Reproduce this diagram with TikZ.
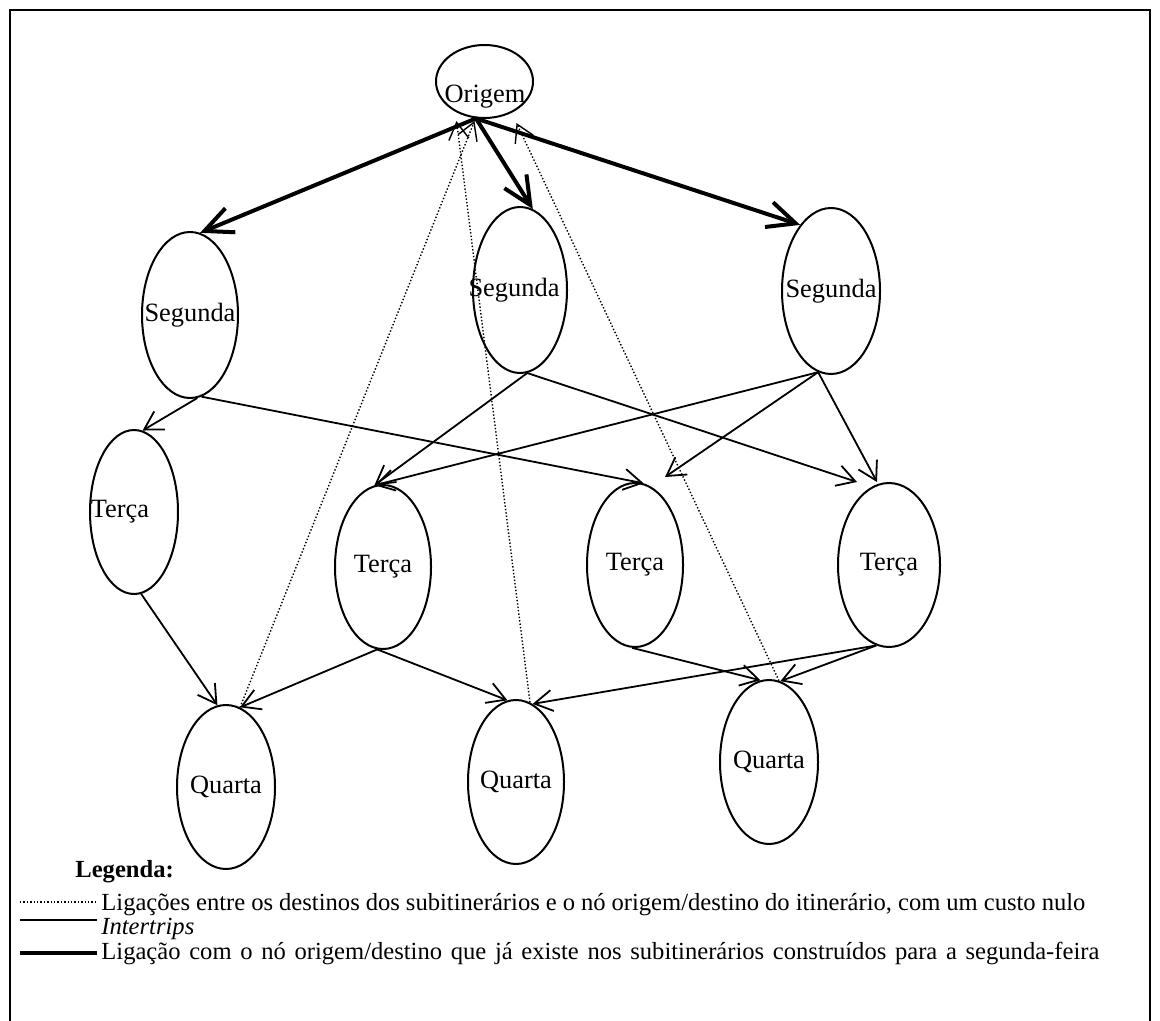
\documentclass[tikz,border=0pt]{standalone}
\usepackage{fontspec}
\setmainfont{Liberation Serif}
\usetikzlibrary{arrows.meta,shapes.geometric,calc}
\begin{document}
\begin{tikzpicture}[x=0.5pt,y=-0.5pt,
  oval/.style={draw, ellipse, line width=1pt, inner sep=0pt,
    font=\fontsize{13.2}{15}\selectfont},
  nodetext/.style={inner sep=0pt, anchor=base, font=\fontsize{13.2}{15}\selectfont},
  intertrip/.style={line width=0.9pt,
    -{Straight Barb[length=9pt,width=10.5pt,line width=0.9pt]}},
  heavy/.style={line width=2pt,
    -{Straight Barb[length=14pt,width=13pt,line width=2pt]}},
  zero/.style={line width=0.7pt, densely dotted,
    -{Straight Barb[length=8.5pt,width=10pt,line width=0.7pt]}},
  legtext/.style={anchor=west, inner sep=0pt, font=\fontsize{12.3}{14}\selectfont}
]
\useasboundingbox (0,0) rectangle (1160,1021);

% frame, open at the bottom
\draw[line width=1.3pt] (10,1021) -- (10,10) -- (1150,10) -- (1150,1021);

% origin/destination node, its label sits low in the ellipse
\node[oval, minimum width=48.5pt, minimum height=36.5pt] (o) at (484.5,81.5) {};
\node[nodetext] (ot) at (485,103) {Origem};

% Monday
\node[oval, minimum width=48pt, minimum height=83pt] (sL) at (190,315) {\makebox[0pt]{Segunda}};
\node[oval, minimum width=47pt, minimum height=83pt] (sM) at (520,290) {\makebox[0pt]{\hspace*{-6pt}Segunda}};
\node[oval, minimum width=49pt, minimum height=83pt] (sR) at (831,291) {\makebox[0pt]{Segunda}};

% Tuesday
\node[oval, minimum width=44pt, minimum height=82pt] (tL) at (134,512) {\makebox[0pt]{\hspace*{-14pt}Terça}};
\node[oval, minimum width=48pt, minimum height=82pt] (t2) at (383,567) {\makebox[0pt]{Terça}};
\node[oval, minimum width=48pt, minimum height=82pt] (t3) at (635,565) {\makebox[0pt]{Terça}};
\node[oval, minimum width=51pt, minimum height=82pt] (t4) at (889,565) {\makebox[0pt]{Terça}};

% Wednesday
\node[oval, minimum width=49pt, minimum height=82pt] (qL) at (226,787) {\makebox[0pt]{Quarta}};
\node[oval, minimum width=48pt, minimum height=82pt] (qM) at (516,782) {\makebox[0pt]{Quarta}};
\node[oval, minimum width=49pt, minimum height=82pt] (qR) at (769,762) {\makebox[0pt]{Quarta}};

% links already present in the Monday sub-itineraries
\draw[heavy] (o.-103) -- (sL.83);
\draw[heavy] (o.-103) -- (sM.81);
\draw[heavy] (o.-103) -- (sR.115);

% intertrips
\draw[intertrip] (sL.-85) -- (tL.84);
\draw[intertrip] (sL.-82) -- (t3.84);
\draw[intertrip] (sM.-85) -- (t2.96);
\draw[intertrip] (sM.-85) -- ($(t4.north)+(-32,0)$);
\draw[intertrip] (sR.-99) -- (t2.96);
\draw[intertrip] (sR.-99) -- ($(t3.north)+(30,-5)$);
\draw[intertrip] (sR.-99) -- ($(t4.north)+(-12,0)$);
\draw[intertrip] (tL.-85) -- (qL.96);
\draw[intertrip] (t2.-94) -- (qL.80);
\draw[intertrip] (t2.-94) -- (qM.96);
\draw[intertrip] (t3.-92) -- (qR.96);
\draw[intertrip] (t4.-99) -- (qM.78);
\draw[intertrip] (t4.-99) -- (qR.82);

% zero-cost links back to the origin/destination node
\draw[zero] (qL.80) -- ($(o.south)+(-10,2)$);
\draw[zero] (qM.80) -- ($(o.south)+(-28,2)$);
\draw[zero] (qR.83) -- ($(o.south)+(32,4)$);

% legend
\node[anchor=west, inner sep=0pt, font=\bfseries\fontsize{12.3}{14}\selectfont] (leg) at (75,872) {Legenda:};
\coordinate (l1a) at (20,902); \coordinate (l1b) at (97,902);
\coordinate (l2a) at (20,920); \coordinate (l2b) at (97,920);
\coordinate (l3a) at (20,953); \coordinate (l3b) at (97,953);
\draw[line width=0.7pt, densely dotted] (l1a) -- (l1b);
\draw[line width=0.9pt] (l2a) -- (l2b);
\draw[line width=2pt] (l3a) -- (l3b);
\node[legtext] (lt1) at (101,905) {\makebox[492pt][s]{Ligações entre os destinos dos subitinerários e o nó origem/destino do itinerário, com um custo nulo}};
\node[legtext] (lt2) at (101,929) {\itshape Intertrips};
\node[legtext] (lt3) at (101,953) {\makebox[499pt][s]{Ligação com o nó origem/destino que já existe nos subitinerários construídos para a segunda-feira}};
\end{tikzpicture}
\end{document}
